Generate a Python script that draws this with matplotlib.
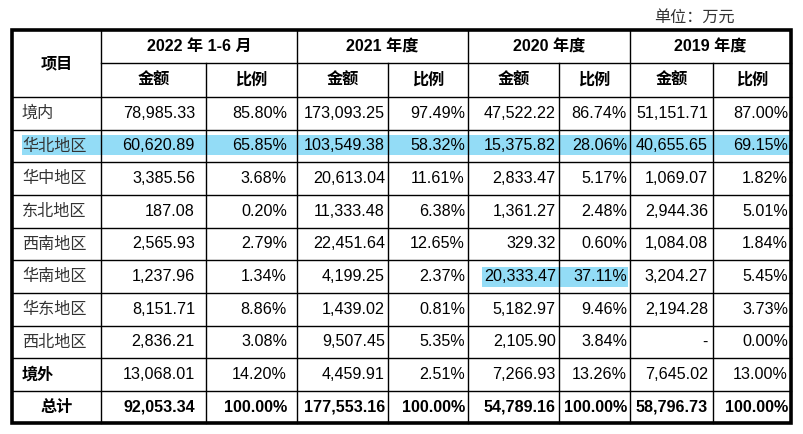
import matplotlib
matplotlib.use("Agg")
import matplotlib.pyplot as plt
from matplotlib.patches import Rectangle

###########################################################################################################################
# Data
periods = ["2022 年 1-6 月", "2021 年度", "2020 年度", "2019 年度"]
items = ["境内", "华北地区", "华中地区", "东北地区", "西南地区", "华南地区", "华东地区", "西北地区", "境外", "总计"]

amount_2022h1 = [78985.33, 60620.89, 3385.56, 187.08, 2565.93, 1237.96, 8151.71, 2836.21, 13068.01, 92053.34]
ratio_2022h1 = [85.80, 65.85, 3.68, 0.20, 2.79, 1.34, 8.86, 3.08, 14.20, 100.00]
amount_2021 = [173093.25, 103549.38, 20613.04, 11333.48, 22451.64, 4199.25, 1439.02, 9507.45, 4459.91, 177553.16]
ratio_2021 = [97.49, 58.32, 11.61, 6.38, 12.65, 2.37, 0.81, 5.35, 2.51, 100.00]
amount_2020 = [47522.22, 15375.82, 2833.47, 1361.27, 329.32, 20333.47, 5182.97, 2105.90, 7266.93, 54789.16]
ratio_2020 = [86.74, 28.06, 5.17, 2.48, 0.60, 37.11, 9.46, 3.84, 13.26, 100.00]
amount_2019 = [51151.71, 40655.65, 1069.07, 2944.36, 1084.08, 3204.27, 2194.28, None, 7645.02, 58796.73]
ratio_2019 = [87.00, 69.15, 1.82, 5.01, 1.84, 5.45, 3.73, 0.00, 13.00, 100.00]

amounts = [amount_2022h1, amount_2021, amount_2020, amount_2019]
ratios = [ratio_2022h1, ratio_2021, ratio_2020, ratio_2019]

###########################################################################################################################
# Layout (pixel coordinates)
W, H = 804, 434
col_x = [12, 101, 206, 297, 388, 468, 559, 630, 713, 791]
top, mid, head_bot = 30, 63, 97
row_h = (391 - 97) / 9
row_y = [head_bot + row_h * i for i in range(10)] + [423]
right_edge = [195, 287, 385, 465, 556, 627, 708, 788]

latin = ["Liberation Sans", "Noto Sans CJK SC", "DejaVu Sans"]
cjk = ["Noto Sans CJK SC", "DejaVu Sans"]
fs = 11.6
hl = "#93DCF6"

fig = plt.figure(figsize=(W / 100, H / 100), dpi=100)
ax = fig.add_axes([0, 0, 1, 1])
ax.set_xlim(0, W)
ax.set_ylim(H, 0)
ax.axis("off")

## Highlights
ax.add_patch(Rectangle((22, 135), 769 - 0, 20, color=hl, lw=0, zorder=0))
r5 = (row_y[5] + row_y[6]) / 2
ax.add_patch(Rectangle((482, r5 - 10), 628 - 482, 20, color=hl, lw=0, zorder=0))

## Grid lines
lw = 1.0
for y in row_y[1:-1]:
    ax.plot([col_x[0], col_x[-1]], [y, y], color="black", lw=lw)
ax.plot([col_x[1], col_x[-1]], [mid, mid], color="black", lw=lw)
ax.plot([col_x[0], col_x[-1]], [head_bot, head_bot], color="black", lw=lw)
for i, x in enumerate(col_x[1:-1], start=1):
    y0 = top if i in (1, 3, 5, 7) else mid
    ax.plot([x, x], [y0, row_y[-1]], color="black", lw=lw)
ax.add_patch(Rectangle((col_x[0], top), col_x[-1] - col_x[0], row_y[-1] - top,
                       fill=False, ec="black", lw=2.6, zorder=3))

## Header
ax.text(735, 17, "单位：万元", ha="right", va="center", fontsize=fs, family=cjk, color="#333333")
ax.text((col_x[0] + col_x[1]) / 2, (top + head_bot) / 2, "项目", ha="center", va="center",
        fontsize=fs, family=cjk, weight="bold")
for p, name in enumerate(periods):
    xa, xb, xc = col_x[1 + 2 * p], col_x[2 + 2 * p], col_x[3 + 2 * p]
    ax.text((xa + xc) / 2, (top + mid) / 2, name, ha="center", va="center",
            fontsize=fs, family=latin, weight="bold")
    ax.text((xa + xb) / 2, (mid + head_bot) / 2, "金额", ha="center", va="center",
            fontsize=fs, family=cjk, weight="bold")
    ax.text((xb + xc) / 2, (mid + head_bot) / 2, "比例", ha="center", va="center",
            fontsize=fs, family=cjk, weight="bold")

## Body
for r, item in enumerate(items):
    yc = (row_y[r] + row_y[r + 1]) / 2
    bold = item in ("境外", "总计")
    total = item == "总计"
    if total:
        ax.text((col_x[0] + col_x[1]) / 2, yc, item, ha="center", va="center",
                fontsize=fs, family=cjk, weight="bold")
    else:
        ax.text(22, yc, item, ha="left", va="center", fontsize=fs, family=cjk,
                weight="bold" if bold else "normal", color="black" if bold else "#333333")
    for p in range(4):
        a = amounts[p][r]
        s = "-" if a is None else f"{a:,.2f}"
        ax.text(right_edge[2 * p], yc, s, ha="right", va="center", fontsize=fs,
                family=latin, weight="bold" if total else "normal")
        ax.text(right_edge[2 * p + 1], yc, f"{ratios[p][r]:.2f}%", ha="right", va="center",
                fontsize=fs, family=latin, weight="bold" if total else "normal")

fig.savefig("out.png", dpi=100)
